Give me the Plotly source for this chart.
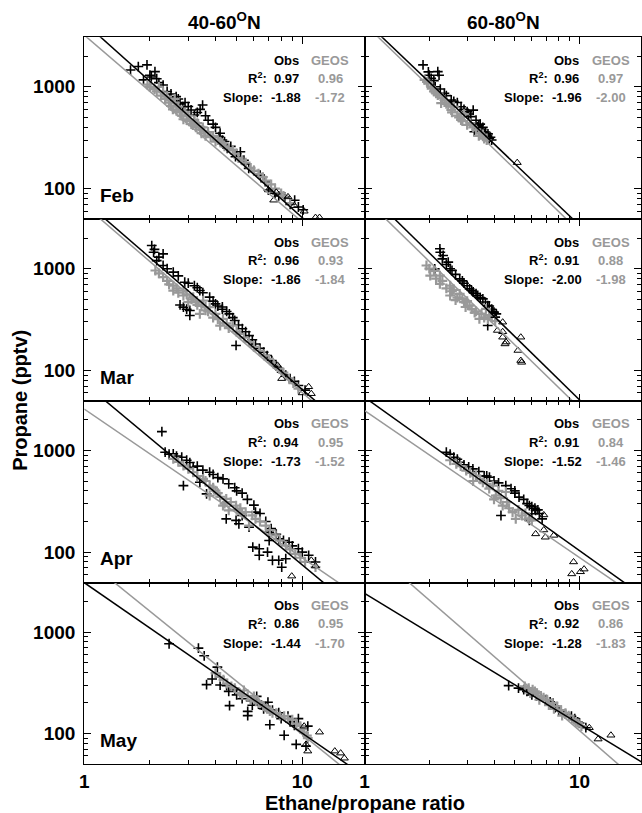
import plotly.graph_objects as go

# ---------------- data (ratio, propane pptv) ----------------
months = ["Feb", "Mar", "Apr", "May"]
regions = ["40-60<sup>O</sup>N", "60-80<sup>O</sup>N"]

FEB_40_OBS = [(1.63,1460),(1.77,1580),(1.94,1640),(2.11,1410),(1.87,1170),(2.03,1250),(2.30,1040),(2.2,1100),(2.47,770),(2.64,800),(2.83,638),(3.09,592),(3.20,528),(3.49,662),(2.9,700),(3.3,560),(3.7,470),(4.0,400),(4.15,324),(4.53,249),(4.94,206),(5.2,230),(5.68,158),(6.41,136),(6.76,117),(6.99,97),(8.32,83),(9.23,77),(10.1,62),(2.4,900),(2.6,720),(4.3,300),(5.4,190),
              (2.0,1300),(2.15,1200),(2.5,850),(2.7,760),(2.75,680),(3.0,640),(3.4,600),(3.6,520),(3.9,430),(4.2,350),(4.4,290),(4.7,260),(5.0,220),(5.5,175),(6.0,150),(7.5,90),(7.8,85),(8.8,70),(9.6,66)]
FEB_40_GEOS = [(1.95,1050),(2.1,950),(2.2,1000),(2.3,880),(2.4,800),(2.5,650),(2.6,700),(2.6,760),(2.7,640),(2.8,520),(2.9,560),(3.0,520),(3.1,430),(3.2,470),(3.3,440),(3.4,380),(3.5,400),(3.6,330),(3.7,360),(3.9,330),(4.0,290),(4.1,300),(4.3,280),(4.6,250),(4.9,220),(5.3,190),(5.8,160),(6.3,140),(6.8,120),(7.5,100),(8.2,85),(8.8,72),
               (2.0,1000),(2.15,900),(2.25,820),(2.35,760),(2.45,700),(2.55,600),(2.65,580),(2.75,560),(2.85,480),(2.95,470),(3.05,460),(3.15,420),(3.25,400),(3.35,410),(3.45,350),(3.55,370),(3.8,320),(4.2,290),(4.4,260),(4.8,240),(5.1,200),(5.5,180),(6.0,150),(6.6,130),(7.2,110),(8.0,90)]
FEB_40_TRI = [(7.0,97),(7.6,92),(7.4,77),(8.6,83),(9.2,68),(10.2,60),(11.5,52),(12.0,52)]

FEB_60_OBS = [(1.87,1640),(2.19,1410),(2.22,1300),(1.98,1400),(2.04,1210),(2.13,1000),(2.35,863),(2.53,742),(2.81,638),(3.0,570),(3.12,509),(3.2,590),(3.35,406),(3.45,430),(3.24,362),(3.6,349),(3.7,330),(3.8,310),(2.7,700),(3.5,380),
              (2.0,1300),(2.1,1150),(2.25,950),(2.4,820),(2.6,720),(2.9,600),(3.05,540),(3.3,470),(3.4,420),(3.55,400),(3.65,360),(3.75,345),(3.85,320),(3.9,300)]
FEB_60_GEOS = [(1.9,1170),(1.98,1080),(2.04,1000),(2.19,830),(2.27,690),(2.35,742),(2.53,592),(2.6,640),(2.81,472),(2.9,540),(3.0,422),(3.45,349),(3.7,300),(2.4,680),(3.2,400),
               (1.95,1120),(2.05,960),(2.1,900),(2.15,860),(2.3,780),(2.45,650),(2.55,560),(2.7,520),(2.75,500),(2.85,460),(3.1,440),(3.3,380),(3.4,330),(3.55,340),(3.6,310)]
FEB_60_TRI = [(5.13,180)]

MAR_40_OBS = [(2.04,1690),(2.08,1450),(2.30,1400),(2.15,1200),(2.30,1075),(2.56,925),(2.89,737),(2.85,419),(3.05,388),(3.05,347),(3.39,610),(3.76,525),(4.0,451),(4.63,360),(4.9,310),(5.31,257),(5.7,220),(6.1,182),(6.65,151),(7.25,125),(8.05,96),(8.8,83),(9.6,71),(10.3,64),(4.97,176),(4.3,400),(3.2,680),
              (2.1,1550),(2.2,1300),(2.4,1000),(2.7,850),(3.0,720),(3.3,650),(3.5,580),(3.9,480),(4.1,430),(4.3,420),(4.5,380),(4.8,330),(5.1,280),(5.5,240),(5.9,200),(6.4,165),(6.9,140),(7.6,110),(8.4,90),(9.2,78),(2.75,440),(2.95,400)]
MAR_40_GEOS = [(2.12,960),(2.3,825),(2.56,683),(2.56,610),(2.85,610),(2.85,545),(3.16,525),(3.39,360),(3.51,486),(3.76,419),(4.0,360),(4.2,276),(4.33,321),(4.8,276),(5.15,229),(5.7,190),(6.35,157),(7.05,130),(7.83,104),(8.7,83),(9.6,66),(3.0,470),(3.6,420),
               (2.2,900),(2.4,760),(2.45,700),(2.65,640),(2.7,580),(2.95,560),(3.1,500),(3.25,470),(3.3,440),(3.45,430),(3.6,390),(3.7,380),(3.9,330),(4.1,320),(4.5,290),(4.6,260),(5.0,240),(5.4,210),(6.0,170),(6.7,140),(7.4,115),(8.2,95),(9.1,75)]
MAR_40_TRI = [(7.7,112),(8.05,83),(10.7,69),(11.0,59),(10.0,60)]

MAR_60_OBS = [(2.24,1570),(2.32,1350),(2.45,1160),(2.12,996),(2.55,960),(2.77,795),(3.08,634),(3.2,590),(3.36,545),(3.55,505),(3.74,434),(4.0,374),(4.05,334),(3.74,276),(2.9,720),(3.9,400),
              (2.25,1450),(2.3,1250),(2.4,1100),(2.5,1000),(2.65,880),(2.85,760),(3.0,680),(3.15,610),(3.3,570),(3.45,520),(3.65,470),(3.8,430),(3.95,380),(4.1,360)]
MAR_60_GEOS = [(1.94,1075),(2.02,857),(2.24,857),(2.24,710),(2.5,683),(2.5,545),(2.77,565),(2.85,505),(3.08,434),(3.42,321),(3.67,403),(3.8,350),(4.05,305),(2.6,620),(3.3,380),
               (2.0,1000),(2.1,950),(2.15,800),(2.3,760),(2.4,640),(2.55,600),(2.7,520),(2.9,470),(3.0,480),(3.15,400),(3.25,370),(3.5,360),(3.6,330),(3.75,320),(2.65,490),(2.95,420)]
MAR_60_TRI = [(4.39,298),(4.15,247),(4.39,240),(4.39,212),(4.5,182),(4.55,190),(5.33,212),(5.17,157),(5.33,125),(5.38,120)]

APR_40_OBS = [(2.27,1530),(2.35,960),(2.56,925),(2.8,857),(2.85,451),(3.16,683),(3.39,486),(3.64,374),(3.76,610),(4.33,525),(4.48,212),(4.97,205),(5.0,400),(5.12,190),(5.3,229),(5.7,176),(6.1,247),(5.93,112),(6.35,108),(6.35,93),(6.93,100),(7.05,130),(7.05,157),(7.3,83),(7.8,83),(7.8,135),(8.05,71),(8.4,86),(8.7,125),(9.6,108),(10.7,93),(11.5,80),
              (2.45,920),(2.65,880),(2.95,800),(3.05,760),(3.3,700),(3.5,640),(3.9,580),(4.1,540),(4.6,470),(4.9,430),(5.3,380),(5.6,330),(6.0,290),(6.4,240),(6.8,200),(7.2,170),(7.6,150),(8.2,130),(9.0,115),(10.0,100)]
APR_40_GEOS = [(2.56,825),(2.85,710),(3.16,610),(3.51,525),(3.76,451),(3.76,360),(4.0,403),(4.33,287),(4.48,334),(4.6,257),(4.97,287),(5.5,247),(5.7,182),(6.1,212),(6.8,182),(7.55,146),(8.4,116),(9.3,96),(10.3,80),(11.5,71),
               (2.7,770),(3.0,660),(3.3,560),(3.6,500),(3.9,430),(4.1,380),(4.2,350),(4.7,310),(5.2,270),(5.3,240),(5.9,230),(6.4,200),(7.1,165),(7.9,130),(8.8,106),(9.8,88),(4.4,300),(5.0,260)]
APR_40_TRI = [(8.95,58),(11.0,83),(11.5,73)]

APR_60_OBS = [(2.4,960),(2.6,857),(2.77,764),(3.19,658),(3.6,560),(3.81,545),(4.54,451),(5.23,347),(5.84,287),(6.25,257),(6.0,238),(4.31,229),(5.84,205),(6.7,212),(4.0,500),(5.0,380),
              (2.5,920),(2.7,820),(2.9,720),(3.05,690),(3.4,620),(3.7,560),(4.2,480),(4.8,420),(5.0,400),(5.5,330),(5.7,300),(6.0,280),(6.4,260),(6.5,240),(6.2,270)]
APR_60_GEOS = [(2.67,736),(2.97,634),(3.2,500),(3.3,565),(3.55,486),(3.95,451),(4.08,360),(4.39,287),(4.54,390),(4.88,247),(5.05,212),(5.4,229),(6.0,205),
               (2.5,800),(2.8,700),(3.1,600),(3.45,520),(3.7,470),(3.8,420),(4.2,400),(4.3,340),(4.6,310),(4.7,270),(5.2,260),(5.6,240),(5.8,215),(4.0,330)]
APR_60_TRI = [(6.82,232),(6.25,151),(6.93,140),(7.59,146),(6.82,165),(9.38,80),(9.2,61),(10.1,64),(10.5,68)]

MAY_40_OBS = [(2.45,766),(3.34,694),(3.55,583),(3.86,344),(3.64,303),(4.5,296),(4.08,451),(4.64,188),(4.9,270),(5.62,150),(5.62,165),(5.9,190),(6.18,232),(6.65,175),(6.96,203),(6.5,190),(7.1,122),(8.26,96),(8.6,148),(9.38,78),(9.6,140),(10.6,118),(10.4,75),
              (5.0,240),(5.3,220),(5.8,210),(6.3,195),(6.8,185),(7.3,170),(7.8,160),(8.0,140),(8.8,130),(9.2,120),(4.2,300),(4.6,260)]
MAY_40_GEOS = [(4.0,394),(4.35,339),(4.73,291),(5.17,250),(5.4,265),(5.62,232),(6.0,232),(6.12,207),(6.65,185),(7.1,166),(7.6,159),(8.26,148),(9.0,137),(9.8,118),(10.2,102),
               (4.2,360),(4.5,310),(4.9,280),(5.3,240),(5.8,215),(6.3,200),(6.9,175),(7.3,160),(7.9,150),(8.6,140),(9.4,125),(10.0,110),(10.5,95),(10.6,90)]
MAY_40_TRI = [(10.2,118),(12.0,103),(10.4,78),(10.6,67),(14.1,67),(15.0,64),(15.6,57)]

MAY_60_OBS = [(4.68,296),(5.69,260),(6.0,240),(6.62,232),(7.54,200),(7.7,180),(8.22,166),(9.17,148),(10.0,127),(10.7,114),
              (5.2,280),(5.5,270),(6.3,235),(7.0,215),(7.3,205),(8.0,170),(8.6,155),(9.5,140),(9.8,130)]
MAY_60_GEOS = [(5.56,291),(6.05,270),(6.34,250),(7.07,215),(7.2,190),(7.87,185),(8.6,159),(9.37,137),(10.2,118),
               (5.8,280),(6.2,260),(6.6,235),(6.8,225),(7.5,200),(8.2,170),(8.9,150),(9.6,130),(9.9,125),(5.9,250),(6.5,215),(7.6,175),(8.3,150)]
MAY_60_TRI = [(11.1,114),(12.2,88),(14.0,96)]

# panel order: Feb40, Feb60, Mar40, Mar60, Apr40, Apr60, May40, May60
obs_pts = [FEB_40_OBS, FEB_60_OBS, MAR_40_OBS, MAR_60_OBS, APR_40_OBS, APR_60_OBS, MAY_40_OBS, MAY_60_OBS]
geos_pts = [FEB_40_GEOS, FEB_60_GEOS, MAR_40_GEOS, MAR_60_GEOS, APR_40_GEOS, APR_60_GEOS, MAY_40_GEOS, MAY_60_GEOS]
tri_pts = [FEB_40_TRI, FEB_60_TRI, MAR_40_TRI, MAR_60_TRI, APR_40_TRI, APR_60_TRI, MAY_40_TRI, MAY_60_TRI]

obs_r2 = ["0.97", "0.96", "0.96", "0.91", "0.94", "0.91", "0.86", "0.92"]
geos_r2 = ["0.96", "0.97", "0.93", "0.88", "0.95", "0.84", "0.95", "0.86"]
obs_slope = ["-1.88", "-1.96", "-1.86", "-2.00", "-1.73", "-1.52", "-1.44", "-1.28"]
geos_slope = ["-1.72", "-2.00", "-1.84", "-1.98", "-1.52", "-1.46", "-1.70", "-1.83"]

# fitted lines as drawn: propane = A * ratio^b
obs_line_A = [4285, 4477, 4656, 5998, 4581, 3327, 3062, 2404]
obs_line_b = [-1.917, -2.012, -1.856, -2.068, -1.787, -1.508, -1.484, -1.29]
geos_line_A = [3221, 4140, 4227, 4920, 2553, 2460, 5346, 7379]
geos_line_b = [-1.837, -2.04, -1.844, -2.061, -1.464, -1.445, -1.738, -1.84]

line_x = [1.0, 25.0]

# ---------------- layout geometry ----------------
W, H = 642, 813
col_px = [(80, 363), (363, 642)]
row_px = [(37.3, 219.3), (219.3, 401.0), (401.0, 582.7), (582.7, 764.0)]
XR = [0, 1.286]
YR = [1.699, 3.486]
GREY = "#999999"
FONT = "Liberation Sans, Arial, sans-serif"

fig = go.Figure()
layout = dict(width=W, height=H, margin=dict(l=0, r=0, t=0, b=0),
              paper_bgcolor="white", plot_bgcolor="white", showlegend=False,
              font=dict(family=FONT, color="black"))
annotations = []

for i in range(8):
    r, c = divmod(i, 2)
    n = "" if i == 0 else str(i + 1)
    xa, ya = "x" + n, "y" + n
    x0, x1 = col_px[c]
    yt, yb = row_px[r]
    layout["xaxis" + n] = dict(
        type="log", range=XR, domain=[x0 / W, x1 / W], anchor=ya,
        showline=True, linecolor="black", linewidth=1.2, mirror="ticks",
        ticks="inside", ticklen=7, tickwidth=1, tickcolor="black",
        tickmode="array", tickvals=[1, 10], ticktext=["1", "10"],
        showticklabels=(r == 3), ticklabelstandoff=0,
        tickfont=dict(family=FONT, size=19, weight="bold", color="black"),
        minor=dict(tickmode="array", tickvals=[2, 3, 4, 5, 6, 7, 8, 9, 20],
                   ticks="inside", ticklen=4, tickwidth=1, tickcolor="black", showgrid=False),
        showgrid=False, zeroline=False)
    layout["yaxis" + n] = dict(
        type="log", range=YR, domain=[1 - yb / H, 1 - yt / H], anchor=xa,
        showline=True, linecolor="black", linewidth=1.2, mirror="ticks",
        ticks="inside", ticklen=7, tickwidth=1, tickcolor="black",
        tickmode="array", tickvals=[100, 1000], ticktext=["100", "1000"],
        showticklabels=(c == 0), ticklabelstandoff=4,
        tickfont=dict(family=FONT, size=19, weight="bold", color="black"),
        minor=dict(tickmode="array", tickvals=[50, 60, 70, 80, 90, 200, 300, 400, 500, 600, 700, 800, 900, 2000, 3000],
                   ticks="inside", ticklen=4, tickwidth=1, tickcolor="black", showgrid=False),
        showgrid=False, zeroline=False)

    ob = obs_pts[i]
    ge = geos_pts[i]
    tr = tri_pts[i]
    fig.add_trace(go.Scatter(x=[p[0] for p in ob], y=[p[1] for p in ob], mode="markers",
                             xaxis=xa, yaxis=ya,
                             marker=dict(symbol="cross-thin-open", size=7, color="black",
                                         line=dict(color="black", width=1.6))))
    fig.add_trace(go.Scatter(x=[p[0] for p in ge], y=[p[1] for p in ge], mode="markers",
                             xaxis=xa, yaxis=ya,
                             marker=dict(symbol="cross-thin-open", size=7, color=GREY,
                                         line=dict(color=GREY, width=2.2))))
    fig.add_trace(go.Scatter(x=[p[0] for p in tr], y=[p[1] for p in tr], mode="markers",
                             xaxis=xa, yaxis=ya,
                             marker=dict(symbol="triangle-up-open", size=7, color="black",
                                         line=dict(color="black", width=1))))
    fig.add_trace(go.Scatter(x=line_x, y=[geos_line_A[i] * v ** geos_line_b[i] for v in line_x],
                             mode="lines", xaxis=xa, yaxis=ya, line=dict(color=GREY, width=1.5)))
    fig.add_trace(go.Scatter(x=line_x, y=[obs_line_A[i] * v ** obs_line_b[i] for v in line_x],
                             mode="lines", xaxis=xa, yaxis=ya, line=dict(color="black", width=1.5)))

    xd, yd = xa + " domain", ya + " domain"
    sf = dict(family=FONT, size=13, weight="bold")

    def ann(text, xs, ys, anchor, color):
        annotations.append(dict(text=text, xref=xd, yref=yd, x=0, y=1, xshift=xs, yshift=ys,
                                xanchor=anchor, yanchor="middle", showarrow=False,
                                font=dict(sf, color=color)))

    ann("Obs", 202, -22.7, "center", "black")
    ann("GEOS", 246, -22.7, "center", GREY)
    ann("R<sup>2</sup>:", 185, -41, "right", "black")
    ann(obs_r2[i], 202, -41, "center", "black")
    ann(geos_r2[i], 246, -41, "center", GREY)
    ann("Slope:", 181, -60.4, "right", "black")
    ann(obs_slope[i], 202, -60.4, "center", "black")
    ann(geos_slope[i], 246, -60.4, "center", GREY)
    if c == 0:
        annotations.append(dict(text=months[r], xref=xd, yref=yd, x=0, y=0, xshift=14, yshift=24,
                                xanchor="left", yanchor="middle", showarrow=False,
                                font=dict(family=FONT, size=19, weight="bold", color="black")))

# column titles
for c in range(2):
    x0, x1 = col_px[c]
    annotations.append(dict(text=regions[c], xref="paper", yref="paper",
                            x=((x0 + x1) / 2 + (0 if c == 0 else 1)) / W, y=1 - 21.5 / H,
                            xanchor="center", yanchor="middle", showarrow=False,
                            font=dict(family=FONT, size=19, weight="bold", color="black")))
# axis titles
annotations.append(dict(text="Ethane/propane ratio", xref="paper", yref="paper",
                        x=363 / W, y=1 - 803 / H, xanchor="center", yanchor="middle", showarrow=False,
                        font=dict(family=FONT, size=20, weight="bold", color="black")))
annotations.append(dict(text="Propane (pptv)", xref="paper", yref="paper",
                        x=15 / W, y=1 - 400 / H, xanchor="center", yanchor="middle", showarrow=False,
                        textangle=-90,
                        font=dict(family=FONT, size=20, weight="bold", color="black")))

layout["annotations"] = annotations
fig.update_layout(**layout)
fig.write_html("out.html", config={"displayModeBar": False},
               post_script="document.body.style.margin='0';document.body.style.padding='0';"
                           "document.documentElement.style.overflow='hidden';")
